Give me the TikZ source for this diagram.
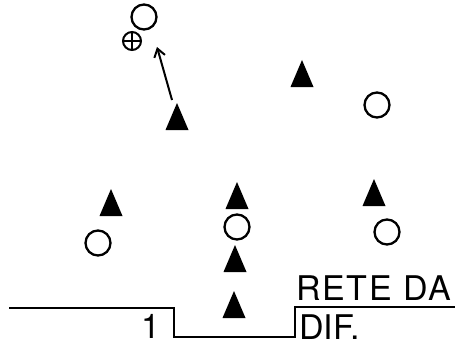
\documentclass[tikz,border=0pt]{standalone}
\usepackage{fontspec}
\setmainfont{TeX Gyre Heros}
\usetikzlibrary{arrows.meta}
\tikzset{
  player/.style={circle,draw,line width=2.3pt,minimum size=25pt,inner sep=0pt},
  keeper/.style={circle,draw,line width=2pt,minimum size=18pt,inner sep=0pt},
  field/.style={line width=2.3pt},
  lbl/.style={inner sep=0pt,anchor=base west,font=\fontsize{34}{34}\selectfont},
  move/.style={line width=2pt,-{Straight Barb[length=8pt,width=11pt,line width=2pt]}},
  tri/.pic={\fill (0,-14) -- (11.5,13) -- (-11.5,13) -- cycle;}
}
\begin{document}
\begin{tikzpicture}[x=1pt,y=-1pt]
\useasboundingbox (0,0) rectangle (455,345);
% circles (opponents)
\node[player] (c1) at (144,17) {};
\node[keeper] (k) at (132,41) {};
\draw[line width=2pt] (k.north) -- (k.south) (k.west) -- (k.east);
\node[player] (c2) at (377,105) {};
\node[player] (c3) at (98,243) {};
\node[player] (c4) at (237,227) {};
\node[player] (c5) at (387,232) {};
% triangles
\coordinate (t1) at (177,117);
\coordinate (t2) at (302,74);
\coordinate (t3) at (111,203);
\coordinate (t4) at (237,196);
\coordinate (t5) at (374,193);
\coordinate (t6) at (235,259);
\coordinate (t7) at (234,305);
\foreach \t in {t1,t2,t3,t4,t5,t6,t7} \pic at (\t) {tri};
% movement
\coordinate (a0) at (172,100);
\coordinate (a1) at (157,47);
\draw[move] (a0) -- (a1);
% field line
\coordinate (f0) at (9,308);
\coordinate (f1) at (174,308);
\coordinate (f2) at (174,337);
\coordinate (f3) at (295,337);
\coordinate (f4) at (295,307);
\coordinate (f5) at (455,307);
\draw[field] (f0) -- (f1) -- (f2) -- (f3) -- (f4) -- (f5);
% labels
\node[lbl] (r) at (296,300) {\addfontfeature{LetterSpace=5}RETE DA};
\node[lbl] (d) at (299,339) {DIF.};
\node[lbl] (one) at (141,338) {1};
\end{tikzpicture}
\end{document}
